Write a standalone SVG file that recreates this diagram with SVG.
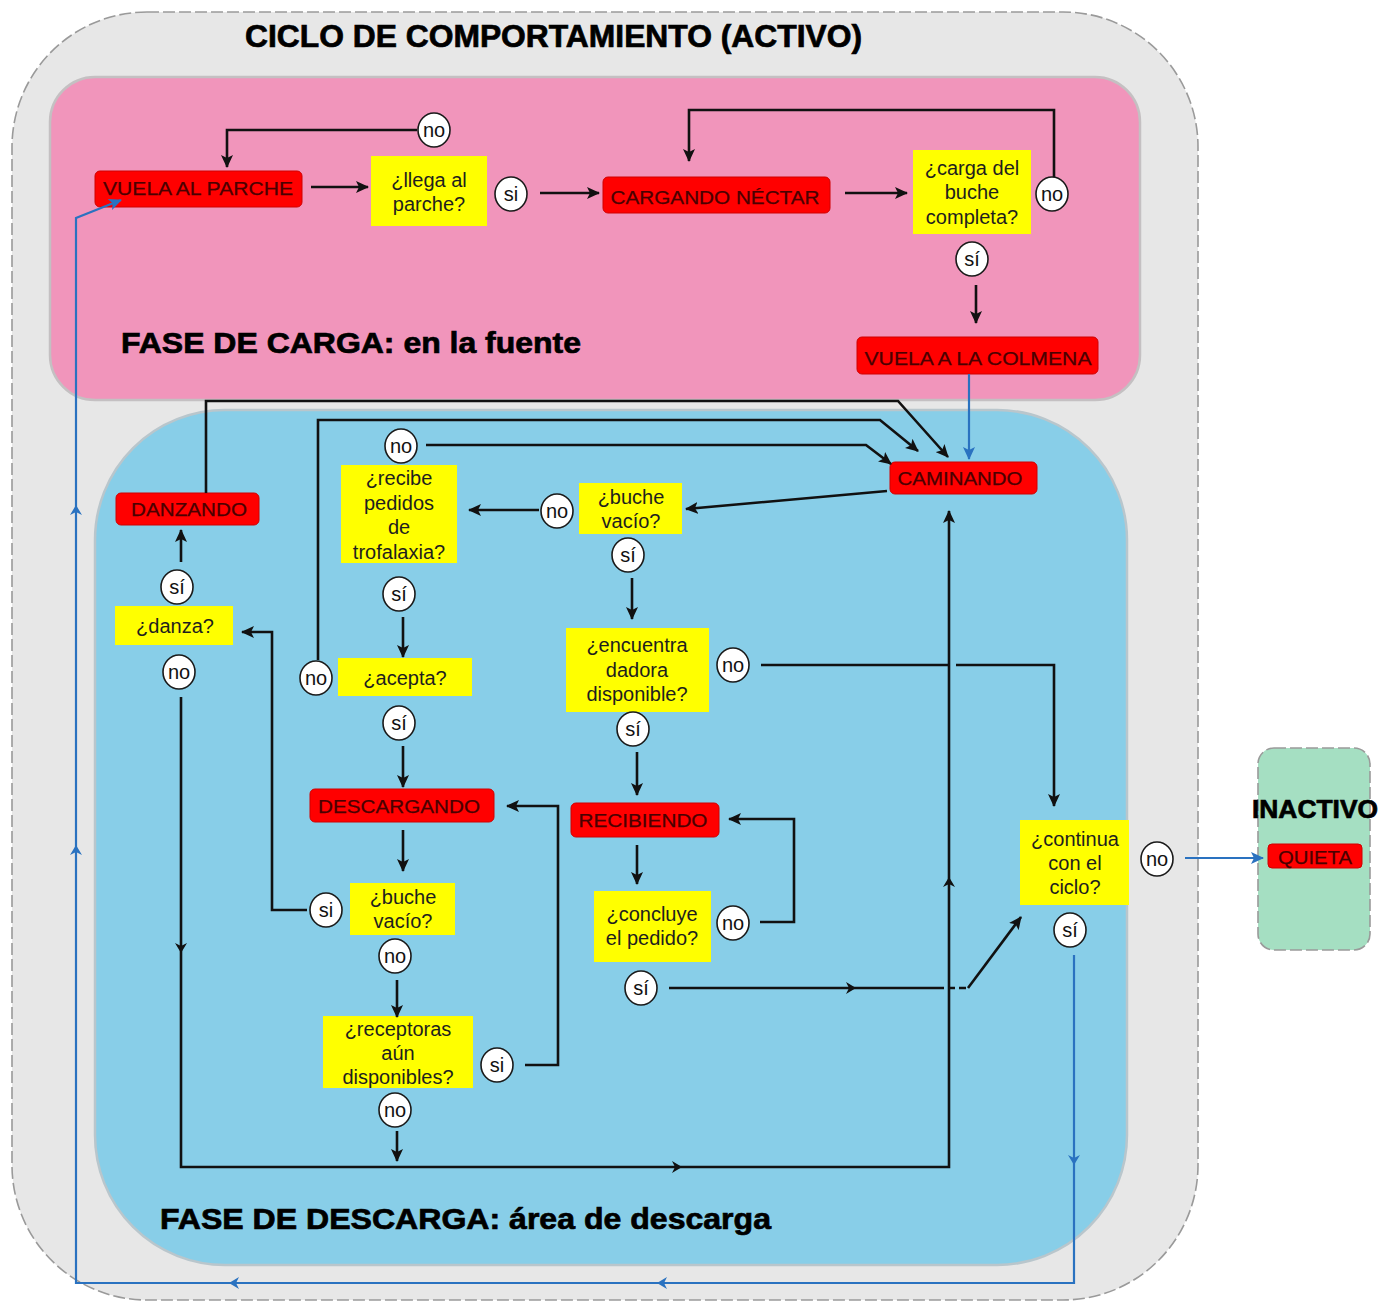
<svg xmlns="http://www.w3.org/2000/svg" width="1380" height="1303" viewBox="0 0 1380 1303">
  <defs>
    <style>
      .red { fill: #ff0000; stroke: #d00000; stroke-width: 1; }
      .redt { font-family: "Liberation Sans", Arial, sans-serif; font-size: 19px; fill: #4a0000; stroke: #4a0000; stroke-width: 0.25; text-anchor: middle; }
      .yel { fill: #ffff00; }
      .yt { font-family: "Liberation Sans", Arial, sans-serif; font-size: 20px; fill: #1e1e1e; text-anchor: middle; }
      .lab ellipse { fill: #ffffff; stroke: #1a1a1a; stroke-width: 1.6; }
      .lab text { font-family: "Liberation Sans", Arial, sans-serif; font-size: 20px; fill: #111; text-anchor: middle; }
      .ln { fill: none; stroke: #111; stroke-width: 2.6; }
      .lnd { fill: none; stroke: #111; stroke-width: 2.6; stroke-dasharray: 7 4; }
      .bl { fill: none; stroke: #2a72c0; stroke-width: 2.2; }
      .hd { font-family: "Liberation Sans", Arial, sans-serif; font-weight: bold; fill: #000; stroke: #000; stroke-width: 0.7; }
      .chevk { fill: #111; }
      .chevb { fill: #2a72c0; }
    </style>
    <marker id="ak" markerUnits="userSpaceOnUse" markerWidth="14" markerHeight="12" refX="12" refY="6" orient="auto">
      <path d="M0,0 L13,6 L0,12 L3,6 Z" fill="#111"/>
    </marker>
    <marker id="ab" markerUnits="userSpaceOnUse" markerWidth="14" markerHeight="12" refX="12" refY="6" orient="auto">
      <path d="M0,0 L13,6 L0,12 L3,6 Z" fill="#2a72c0"/>
    </marker>
    <path id="chev" d="M-7,-6 L3,0 L-7,6 L-4,0 Z"/>
  </defs>

  <!-- background -->
  <rect x="0" y="0" width="1380" height="1303" fill="#ffffff"/>

  <!-- containers -->
  <g id="ciclo-activo">
    <rect x="12" y="12" width="1186" height="1288" rx="135" ry="135" fill="#e7e7e7" stroke="#9a9a9a" stroke-width="1.6" stroke-dasharray="12 4"/>
    <text class="hd" x="245" y="47" font-size="31" textLength="617" lengthAdjust="spacingAndGlyphs">CICLO DE COMPORTAMIENTO (ACTIVO)</text>
  </g>
  <g id="fase-carga">
    <rect x="50" y="77" width="1090" height="323" rx="45" ry="45" fill="#f195bb" stroke="#c4c0c2" stroke-width="2.5"/>
    <text class="hd" x="121" y="353" font-size="29" textLength="460" lengthAdjust="spacingAndGlyphs">FASE DE CARGA: en la fuente</text>
  </g>
  <g id="fase-descarga">
    <rect x="95" y="410" width="1032" height="855" rx="130" ry="130" fill="#88cee8" stroke="#b9c6cc" stroke-width="2.5"/>
    <text class="hd" x="160" y="1229" font-size="29" textLength="611" lengthAdjust="spacingAndGlyphs">FASE DE DESCARGA: área de descarga</text>
  </g>
  <g id="inactivo">
    <rect x="1258" y="748" width="112" height="202" rx="16" ry="16" fill="#a5dfc2" stroke="#9a9a9a" stroke-width="1.6" stroke-dasharray="12 4"/>
    <text class="hd" x="1252" y="818" font-size="25" textLength="126" lengthAdjust="spacingAndGlyphs">INACTIVO</text>
  </g>

  <!-- state nodes -->
  <g id="vuela-al-parche">
    <rect class="red" x="95" y="171" width="207" height="36" rx="5"/>
    <text class="redt" x="198" y="195" textLength="190" lengthAdjust="spacingAndGlyphs">VUELA  AL PARCHE</text>
  </g>
  <g id="cargando-nectar">
    <rect class="red" x="603" y="177" width="227" height="36" rx="5"/>
    <text class="redt" x="715" y="204" textLength="209" lengthAdjust="spacingAndGlyphs">CARGANDO NÉCTAR</text>
  </g>
  <g id="vuela-a-la-colmena">
    <rect class="red" x="857" y="337" width="241" height="37" rx="5"/>
    <text class="redt" x="978" y="365" textLength="227" lengthAdjust="spacingAndGlyphs">VUELA  A LA COLMENA</text>
  </g>
  <g id="caminando">
    <rect class="red" x="890" y="462" width="147" height="32" rx="5"/>
    <text class="redt" x="960" y="485" textLength="125" lengthAdjust="spacingAndGlyphs">CAMINANDO</text>
  </g>
  <g id="danzando">
    <rect class="red" x="116" y="493" width="143" height="32" rx="5"/>
    <text class="redt" x="189" y="516" textLength="116" lengthAdjust="spacingAndGlyphs">DANZANDO</text>
  </g>
  <g id="descargando">
    <rect class="red" x="310" y="789" width="184" height="33" rx="5"/>
    <text class="redt" x="399" y="813" textLength="162" lengthAdjust="spacingAndGlyphs">DESCARGANDO</text>
  </g>
  <g id="recibiendo">
    <rect class="red" x="571" y="803" width="148" height="34" rx="5"/>
    <text class="redt" x="643" y="827" textLength="129" lengthAdjust="spacingAndGlyphs">RECIBIENDO</text>
  </g>
  <g id="quieta">
    <rect class="red" x="1268" y="844" width="94" height="24" rx="4"/>
    <text class="redt" x="1315" y="864" font-size="18" textLength="74" lengthAdjust="spacingAndGlyphs">QUIETA</text>
  </g>

  <!-- decision nodes -->
  <g id="q-llega-al-parche">
    <rect class="yel" x="371" y="156" width="116" height="70"/>
    <text class="yt" x="429" y="187">¿llega al</text>
    <text class="yt" x="429" y="211">parche?</text>
  </g>
  <g id="q-carga-completa">
    <rect class="yel" x="913" y="150" width="118" height="84"/>
    <text class="yt" x="972" y="175">¿carga del</text>
    <text class="yt" x="972" y="199">buche</text>
    <text class="yt" x="972" y="224">completa?</text>
  </g>
  <g id="q-recibe-pedidos">
    <rect class="yel" x="341" y="465" width="116" height="98"/>
    <text class="yt" x="399" y="485">¿recibe</text>
    <text class="yt" x="399" y="510">pedidos</text>
    <text class="yt" x="399" y="534">de</text>
    <text class="yt" x="399" y="559">trofalaxia?</text>
  </g>
  <g id="q-buche-vacio-1">
    <rect class="yel" x="579" y="483" width="103" height="51"/>
    <text class="yt" x="631" y="504">¿buche</text>
    <text class="yt" x="631" y="528">vacío?</text>
  </g>
  <g id="q-encuentra-dadora">
    <rect class="yel" x="566" y="628" width="143" height="84"/>
    <text class="yt" x="637" y="652">¿encuentra</text>
    <text class="yt" x="637" y="677">dadora</text>
    <text class="yt" x="637" y="701">disponible?</text>
  </g>
  <g id="q-danza">
    <rect class="yel" x="115" y="606" width="118" height="39"/>
    <text class="yt" x="175" y="633">¿danza?</text>
  </g>
  <g id="q-acepta">
    <rect class="yel" x="338" y="658" width="134" height="38"/>
    <text class="yt" x="405" y="685">¿acepta?</text>
  </g>
  <g id="q-buche-vacio-2">
    <rect class="yel" x="350" y="883" width="105" height="52"/>
    <text class="yt" x="403" y="904">¿buche</text>
    <text class="yt" x="403" y="928">vacío?</text>
  </g>
  <g id="q-concluye-pedido">
    <rect class="yel" x="594" y="891" width="117" height="71"/>
    <text class="yt" x="652" y="921">¿concluye</text>
    <text class="yt" x="652" y="945">el pedido?</text>
  </g>
  <g id="q-receptoras">
    <rect class="yel" x="323" y="1016" width="150" height="72"/>
    <text class="yt" x="398" y="1036">¿receptoras</text>
    <text class="yt" x="398" y="1060">aún</text>
    <text class="yt" x="398" y="1084">disponibles?</text>
  </g>
  <g id="q-continua-ciclo">
    <rect class="yel" x="1020" y="820" width="109" height="85"/>
    <text class="yt" x="1075" y="846">¿continua</text>
    <text class="yt" x="1075" y="870">con el</text>
    <text class="yt" x="1075" y="894">ciclo?</text>
  </g>

  <!-- connectors -->
  <g id="connectors">
    <!-- carga phase -->
    <path class="ln" d="M311,187 H368" marker-end="url(#ak)"/>
    <path class="ln" d="M417,130 H227 V167" marker-end="url(#ak)"/>
    <path class="ln" d="M540,193 H599" marker-end="url(#ak)"/>
    <path class="ln" d="M845,193 H907" marker-end="url(#ak)"/>
    <path class="ln" d="M1054,177 V110 H689 V161" marker-end="url(#ak)"/>
    <path class="ln" d="M976,285 V323" marker-end="url(#ak)"/>
    <path class="bl" d="M969,374 V459" marker-end="url(#ab)"/>

    <!-- into CAMINANDO -->
    <path class="ln" d="M206,493 V401 H898 L948,457" marker-end="url(#ak)"/>
    <path class="ln" d="M318,660 V420 H880 L918,451" marker-end="url(#ak)"/>
    <path class="ln" d="M426,445 H866 L891,464" marker-end="url(#ak)"/>

    <!-- descarga phase -->
    <path class="ln" d="M887,491 L686,509" marker-end="url(#ak)"/>
    <path class="ln" d="M539,510 H469" marker-end="url(#ak)"/>
    <path class="ln" d="M632,578 V619" marker-end="url(#ak)"/>
    <path class="ln" d="M403,617 V657" marker-end="url(#ak)"/>
    <path class="ln" d="M403,746 V787" marker-end="url(#ak)"/>
    <path class="ln" d="M637,752 V795" marker-end="url(#ak)"/>
    <path class="ln" d="M403,830 V871" marker-end="url(#ak)"/>
    <path class="ln" d="M637,845 V884" marker-end="url(#ak)"/>
    <path class="ln" d="M181,562 V530" marker-end="url(#ak)"/>
    <path class="ln" d="M307,910 H272 V632 H242" marker-end="url(#ak)"/>
    <path class="ln" d="M397,980 V1017" marker-end="url(#ak)"/>
    <path class="ln" d="M397,1131 V1161" marker-end="url(#ak)"/>
    <path class="ln" d="M525,1065 H558 V806 H507" marker-end="url(#ak)"/>
    <path class="ln" d="M760,922 H794 V819 H729" marker-end="url(#ak)"/>
    <path class="ln" d="M181,697 V1167 H949 V511" marker-end="url(#ak)"/>
    <path class="ln" d="M761,665 H950 M956,665 H1054 V806" marker-end="url(#ak)"/>
    <path class="ln" d="M669,988 H937"/>
    <path class="lnd" d="M937,988 H968"/>
    <path class="ln" d="M968,988 L1021,917" marker-end="url(#ak)"/>

    <!-- to INACTIVO and back to the patch -->
    <path class="bl" d="M1185,858 H1263" marker-end="url(#ab)"/>
    <path class="bl" d="M1074,955 V1283 H76 V218 L121,200" marker-end="url(#ab)"/>

    <!-- direction marks along long runs -->
    <use href="#chev" class="chevk" transform="translate(181,950) rotate(90)"/>
    <use href="#chev" class="chevk" transform="translate(679,1167)"/>
    <use href="#chev" class="chevk" transform="translate(949,880) rotate(-90)"/>
    <use href="#chev" class="chevk" transform="translate(853,988)"/>
    <use href="#chev" class="chevb" transform="translate(1074,1162) rotate(90)"/>
    <use href="#chev" class="chevb" transform="translate(660,1283) rotate(180)"/>
    <use href="#chev" class="chevb" transform="translate(232,1283) rotate(180)"/>
    <use href="#chev" class="chevb" transform="translate(76,848) rotate(-90)"/>
    <use href="#chev" class="chevb" transform="translate(76,508) rotate(-90)"/>
  </g>

  <!-- answer labels -->
  <g id="a-no-llega" class="lab"><ellipse cx="434" cy="130" rx="16" ry="17"/><text x="434" y="137">no</text></g>
  <g id="a-si-llega" class="lab"><ellipse cx="511" cy="194" rx="16" ry="17"/><text x="511" y="201">si</text></g>
  <g id="a-no-carga" class="lab"><ellipse cx="1052" cy="194" rx="16" ry="17"/><text x="1052" y="201">no</text></g>
  <g id="a-si-carga" class="lab"><ellipse cx="972" cy="259" rx="16" ry="17"/><text x="972" y="266">sí</text></g>
  <g id="a-no-recibe" class="lab"><ellipse cx="401" cy="446" rx="16" ry="17"/><text x="401" y="453">no</text></g>
  <g id="a-no-buche-1" class="lab"><ellipse cx="557" cy="511" rx="16" ry="17"/><text x="557" y="518">no</text></g>
  <g id="a-si-buche-1" class="lab"><ellipse cx="628" cy="555" rx="16" ry="17"/><text x="628" y="562">sí</text></g>
  <g id="a-si-recibe" class="lab"><ellipse cx="399" cy="594" rx="16" ry="17"/><text x="399" y="601">sí</text></g>
  <g id="a-si-danza" class="lab"><ellipse cx="177" cy="587" rx="16" ry="17"/><text x="177" y="594">sí</text></g>
  <g id="a-no-danza" class="lab"><ellipse cx="179" cy="672" rx="16" ry="17"/><text x="179" y="679">no</text></g>
  <g id="a-no-acepta" class="lab"><ellipse cx="316" cy="678" rx="16" ry="17"/><text x="316" y="685">no</text></g>
  <g id="a-no-encuentra" class="lab"><ellipse cx="733" cy="665" rx="16" ry="17"/><text x="733" y="672">no</text></g>
  <g id="a-si-acepta" class="lab"><ellipse cx="399" cy="723" rx="16" ry="17"/><text x="399" y="730">sí</text></g>
  <g id="a-si-encuentra" class="lab"><ellipse cx="633" cy="729" rx="16" ry="17"/><text x="633" y="736">sí</text></g>
  <g id="a-si-buche-2" class="lab"><ellipse cx="326" cy="910" rx="16" ry="17"/><text x="326" y="917">si</text></g>
  <g id="a-no-buche-2" class="lab"><ellipse cx="395" cy="956" rx="16" ry="17"/><text x="395" y="963">no</text></g>
  <g id="a-no-concluye" class="lab"><ellipse cx="733" cy="923" rx="16" ry="17"/><text x="733" y="930">no</text></g>
  <g id="a-si-concluye" class="lab"><ellipse cx="641" cy="988" rx="16" ry="17"/><text x="641" y="995">sí</text></g>
  <g id="a-si-receptoras" class="lab"><ellipse cx="497" cy="1065" rx="16" ry="17"/><text x="497" y="1072">si</text></g>
  <g id="a-no-receptoras" class="lab"><ellipse cx="395" cy="1110" rx="16" ry="17"/><text x="395" y="1117">no</text></g>
  <g id="a-no-continua" class="lab"><ellipse cx="1157" cy="859" rx="16" ry="17"/><text x="1157" y="866">no</text></g>
  <g id="a-si-continua" class="lab"><ellipse cx="1070" cy="930" rx="16" ry="17"/><text x="1070" y="937">sí</text></g>
</svg>
